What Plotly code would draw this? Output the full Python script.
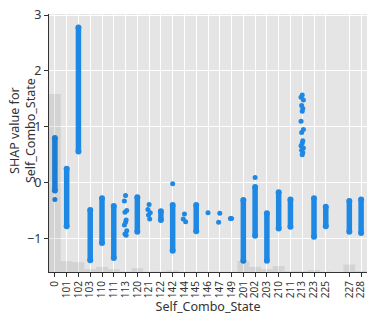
import plotly.graph_objects as go

# SHAP dependence plot for Self_Combo_State
categories = ["0", "101", "102", "103", "110", "111", "113", "120", "121", "122",
              "142", "144", "145", "146", "147", "149", "201", "202", "203", "210",
              "211", "213", "223", "225", "226", "227", "228"]

# counts of each category (background histogram)
hist_counts = [690, 42, 38, 11, 20, 11, 2, 15, 1, 2,
               6, 1, 2, 1, 1, 1, 43, 20, 11, 23,
               3, 3, 8, 1, 0, 29, 4]

# dense strips of shap values: top / bottom of each cloud (None = no dense cloud)
strip_top = [0.80, 0.25, 2.78, -0.49, -0.28, -0.42, None, -0.26, None, -0.51,
             -0.40, None, -0.40, None, None, None, -0.31, -0.08, -0.55, -0.17,
             -0.30, None, -0.28, -0.43, None, -0.33, -0.30]
strip_bottom = [-0.14, -0.78, 0.56, -1.39, -1.08, -1.35, None, -0.88, None, -0.67,
                -1.22, None, -0.87, None, None, None, -1.40, -0.95, -1.40, -0.82,
                -0.79, None, -0.97, -0.78, None, -0.88, -0.90]

# isolated shap values
single_points = [
    [-0.30], [], [], [], [], [],
    [-0.23, -0.33, -0.50, -0.53, -0.67, -0.71, -0.76, -0.86, -0.92, -0.94],
    [],
    [-0.39, -0.48, -0.54, -0.58, -0.65],
    [],
    [-0.02],
    [-0.56, -0.65, -0.70],
    [],
    [-0.54],
    [-0.55, -0.71],
    [-0.64, -0.64],
    [],
    [0.09],
    [], [], [],
    [1.57, 1.53, 1.48, 1.38, 1.33, 1.28, 1.10, 0.95, 0.90, 0.75, 0.71, 0.66,
     0.62, 0.58, 0.54, 0.50],
    [], [], [], [], [],
]

BLUE = "#1E88E5"
jitter = [0.0, -0.1, 0.1, -0.05, 0.05]

xs = list(range(len(categories)))

strip_x, strip_y = [], []
for i in xs:
    if strip_top[i] is None:
        continue
    strip_x += [i, i, None]
    strip_y += [strip_top[i], strip_bottom[i], None]

dot_x, dot_y = [], []
for i in xs:
    for k, v in enumerate(single_points[i]):
        dot_x.append(i + jitter[k % len(jitter)])
        dot_y.append(v)

shown = [i for i in xs if hist_counts[i] > 0]

fig = go.Figure()
fig.add_trace(go.Scatter(x=strip_x, y=strip_y, mode="lines+markers",
                         line=dict(color=BLUE, width=5.5),
                         marker=dict(color=BLUE, size=6),
                         connectgaps=False, hoverinfo="skip"))
fig.add_trace(go.Scatter(x=dot_x, y=dot_y, mode="markers",
                         marker=dict(color=BLUE, size=5)))
fig.add_trace(go.Bar(x=xs, y=hist_counts, width=1, yaxis="y2",
                     marker=dict(color="rgba(0,0,0,0.08)", line=dict(width=0))))

font = "Noto Sans, sans-serif"
fig.update_layout(
    width=374, height=326,
    margin=dict(l=49, r=7, t=10, b=54),
    showlegend=False,
    paper_bgcolor="white",
    plot_bgcolor="#e5e5e5",
    font=dict(family=font, color="#333"),
    xaxis=dict(range=[-0.5, 26.5], tickvals=shown,
               ticktext=[categories[i] for i in shown],
               tickangle=-90, tickfont=dict(size=10),
               ticks="outside", ticklen=4, tickcolor="#333",
               showline=True, linecolor="#333", linewidth=1.2,
               showgrid=True, gridcolor="white", gridwidth=1.2, zeroline=False,
               title=dict(text="Self_Combo_State", font=dict(size=12.5), standoff=0)),
    yaxis=dict(range=[-1.6, 3.02], tickvals=[-1, 0, 1, 2, 3],
               tickfont=dict(size=12.5),
               ticks="outside", ticklen=4, tickcolor="#333",
               showline=True, linecolor="#333", linewidth=1.2,
               showgrid=True, gridcolor="white", gridwidth=1.2, zeroline=False),
    yaxis2=dict(overlaying="y", range=[0, 1000], visible=False),
    annotations=[dict(text="SHAP value for<br>Self_Combo_State", xref="paper", yref="paper",
                      x=-0.085, y=0.55, xanchor="center", yanchor="middle",
                      textangle=-90, showarrow=False, font=dict(size=12.5))],
)

fig.write_html("out.html", config={"displayModeBar": False},
               post_script="document.body.style.margin='0';")
